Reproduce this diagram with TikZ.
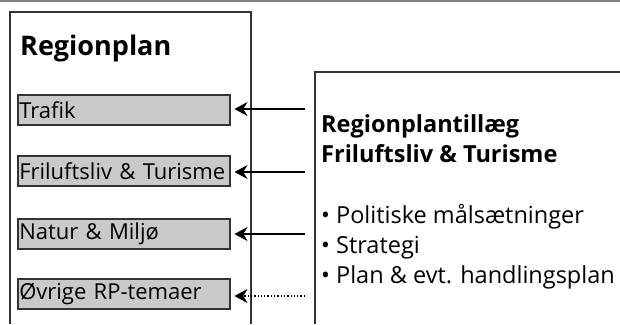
\documentclass[tikz,border=0pt]{standalone}
\usepackage{fontspec}
\setmainfont{Open Sans}
\usetikzlibrary{arrows.meta}
\definecolor{boxgray}{HTML}{C8C9CB}
\definecolor{linegray}{HTML}{333333}
\tikzset{
    every node/.append style={font=\fontsize{22}{26}\selectfont},
    frame/.style={draw=linegray, line width=1.8pt},
    theme/.style={draw=linegray, line width=1.5pt, fill=boxgray, anchor=north west,
        minimum height=30pt, text width=209pt, inner sep=1.5pt, align=left},
    link/.style={line width=1.3pt, shorten >=4pt, -{Stealth[length=13pt,width=14pt]}},
}
\begin{document}
\begin{tikzpicture}[x=1pt,y=-1pt]
  \useasboundingbox (0,0) rectangle (620,324);
  % frames
  \draw[gray, line width=2pt] (0,1) -- (620,1);
  \draw[frame] (10,324) |- (251,12) -- (251,324);
  \draw[frame] (315,324) |- (621,72);
  \node[anchor=base west, inner sep=0pt, font=\fontsize{27}{32}\selectfont\bfseries] (rp) at (20,55) {Regionplan};

  % themes
  \node[theme] (trafik) at (17,94) {Trafik};
  \node[theme] (frilufts) at (17,155) {Friluftsliv \& Turisme};
  \node[theme] (natur) at (17,218) {Natur \& Miljø};
  \node[theme] (oevrige) at (17,278) {Øvrige RP-temaer};

  % tillaeg (base = last line)
  \node[anchor=base west, align=left, inner sep=0pt, font=\fontsize{23.5}{30}\selectfont\bfseries] (tillaeg) at (321,162)
    {Regionplantillæg\\Friluftsliv \& Turisme};
  \node[anchor=base west, align=left, inner sep=0pt, font=\fontsize{23.5}{30}\selectfont] (punkter) at (321,283)
    {• Politiske målsætninger\\• Strategi\\• Plan \& evt. handlingsplan};

  % arrows
  \coordinate (a1) at (305,109);
  \coordinate (a2) at (305,172);
  \coordinate (a3) at (305,234);
  \coordinate (a4) at (305,296);
  \draw[link] (a1) -- (a1 -| trafik.east);
  \draw[link] (a2) -- (a2 -| frilufts.east);
  \draw[link] (a3) -- (a3 -| natur.east);
  \draw[link, dotted] (a4) -- (a4 -| oevrige.east);
\end{tikzpicture}
\end{document}
